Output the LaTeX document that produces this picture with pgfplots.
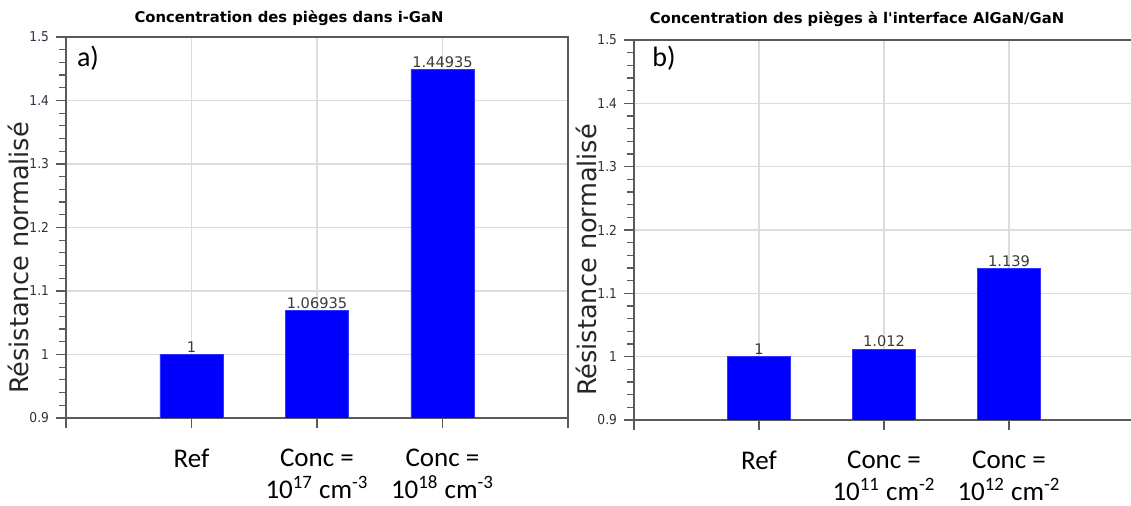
\documentclass[border=0pt]{standalone}
\usepackage{fontspec}
\setmainfont{Carlito}
\newfontfamily\dv{DejaVu Sans}
\newfontfamily\dvc[FakeStretch=0.9]{DejaVu Sans}
\usepackage{pgfplots}
\pgfplotsset{compat=1.18}
\definecolor{axgray}{HTML}{5A5A5A}
\definecolor{gridgray}{HTML}{DCDCDC}
\definecolor{tickcol}{HTML}{2F3040}
\definecolor{valcol}{HTML}{3A3A3A}
\pgfplotsset{
  myax/.style={
    scale only axis,
    xmin=0, xmax=4, ymin=0.9, ymax=1.5,
    xtick={0,1,2,3,4},
    ytick={0.9,1,1.1,1.2,1.3,1.4,1.5},
    yticklabels={0.9,1,1.1,1.2,1.3,1.4,1.5},
    minor y tick num=4,
    xtick pos=lower, ytick pos=left,
    tick align=outside,
    major tick length=5pt,
    minor tick length=3.5pt,
    tick style={color=axgray, line width=0.6pt},
    axis line style={axgray, line width=0.8pt},
    grid=major,
    major grid style={gridgray, line width=0.6pt},
    ybar, bar width=31.5pt,
    yticklabel style={font=\dvc\fontsize{6.8}{8}\selectfont, text=tickcol},
    xticklabel style={align=center, font=\fontsize{13.5}{16}\selectfont, yshift=-7pt},
    nodes near coords, point meta=explicit symbolic,
    nodes near coords style={font=\dv\fontsize{7.3}{8}\selectfont, text=valcol, anchor=south, inner sep=0.8pt},
  }
}
\begin{document}
\begin{tikzpicture}
\useasboundingbox (0pt,0pt) rectangle (565.5pt,253pt);
\begin{axis}[myax, at={(33pt,44pt)}, anchor=south west, width=251pt, height=190.5pt,
  xticklabels={,Ref,Conc =\\10\textsuperscript{17} cm\textsuperscript{-3},Conc =\\10\textsuperscript{18} cm\textsuperscript{-3},}]
\addplot[fill=blue, draw=blue!80!white, line width=0.3pt] table[meta=label, row sep=\\] {
x y label \\
1 1 1 \\
2 1.06935 1.06935 \\
3 1.44935 1.44935 \\
};
\end{axis}
\begin{axis}[myax, at={(317pt,43pt)}, anchor=south west, width=250pt, height=190pt,
  xticklabels={,Ref,Conc =\\10\textsuperscript{11} cm\textsuperscript{-2},Conc =\\10\textsuperscript{12} cm\textsuperscript{-2},}]
\addplot[fill=blue, draw=blue!80!white, line width=0.3pt] table[meta=label, row sep=\\] {
x y label \\
1 1 1 \\
2 1.012 1.012 \\
3 1.139 1.139 \\
};
\end{axis}
\node[font=\dv\bfseries\fontsize{7.4}{9}\selectfont] at (144.5pt,244pt) {Concentration des pièges dans i-GaN};
\node[font=\dv\bfseries\fontsize{7.4}{9}\selectfont] at (428.5pt,243.5pt) {Concentration des pièges à l'interface AlGaN/GaN};
\node[rotate=90, font=\dv\fontsize{12.8}{14}\selectfont, text=black!85] at (9pt,124pt) {Résistance normalisé};
\node[rotate=90, font=\dv\fontsize{12.8}{14}\selectfont, text=black!85] at (293pt,123pt) {Résistance normalisé};
\node[font=\fontsize{14}{16}\selectfont] at (44pt,224pt) {a)};
\node[font=\fontsize{14}{16}\selectfont] at (332pt,224pt) {b)};
\end{tikzpicture}
\end{document}
